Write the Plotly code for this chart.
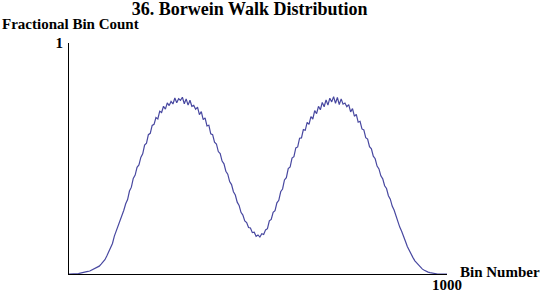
import plotly.graph_objects as go

bins = list(range(0, 1001, 5))
counts = [
    0.000, 0.000, 0.000, 0.000, 0.001, 0.002, 0.004, 0.005, 0.007, 0.009,
    0.011, 0.013, 0.017, 0.020, 0.025, 0.029, 0.034, 0.043, 0.051, 0.062,
    0.078, 0.094, 0.117, 0.132, 0.164, 0.185, 0.208, 0.232, 0.254, 0.276,
    0.304, 0.322, 0.359, 0.376, 0.414, 0.428, 0.462, 0.472, 0.505, 0.520,
    0.558, 0.566, 0.603, 0.609, 0.643, 0.648, 0.677, 0.671, 0.705, 0.699,
    0.726, 0.714, 0.741, 0.729, 0.747, 0.736, 0.762, 0.741, 0.759, 0.752,
    0.765, 0.737, 0.758, 0.731, 0.752, 0.726, 0.730, 0.713, 0.722, 0.690,
    0.703, 0.668, 0.676, 0.641, 0.644, 0.607, 0.603, 0.571, 0.563, 0.530,
    0.521, 0.489, 0.477, 0.445, 0.432, 0.400, 0.387, 0.356, 0.342, 0.311,
    0.297, 0.267, 0.255, 0.230, 0.223, 0.201, 0.199, 0.179, 0.181, 0.163,
    0.169, 0.160, 0.174, 0.171, 0.191, 0.196, 0.230, 0.236, 0.267, 0.274,
    0.308, 0.319, 0.356, 0.368, 0.407, 0.417, 0.456, 0.463, 0.502, 0.508,
    0.546, 0.550, 0.588, 0.589, 0.625, 0.622, 0.656, 0.648, 0.681, 0.671,
    0.707, 0.694, 0.726, 0.711, 0.743, 0.724, 0.754, 0.731, 0.761, 0.745,
    0.768, 0.739, 0.764, 0.733, 0.758, 0.735, 0.740, 0.724, 0.733, 0.702,
    0.716, 0.683, 0.691, 0.657, 0.661, 0.628, 0.624, 0.590, 0.584, 0.551,
    0.542, 0.510, 0.499, 0.467, 0.455, 0.425, 0.412, 0.382, 0.370, 0.339,
    0.324, 0.294, 0.277, 0.249, 0.231, 0.203, 0.185, 0.159, 0.142, 0.119,
    0.101, 0.084, 0.071, 0.057, 0.047, 0.036, 0.028, 0.021, 0.016, 0.011,
    0.008, 0.006, 0.004, 0.002, 0.001, 0.000, 0.000, 0.000, 0.000, 0.000,
    0.000,
]

x_ticks = [1000]
x_tick_labels = ["1000"]
y_ticks = [1]
y_tick_labels = ["1"]

title_text = "36. Borwein Walk Distribution"
y_label = "Fractional Bin Count"
x_label = "Bin Number"

serif = "Liberation Serif"

fig = go.Figure()
fig.add_trace(go.Scatter(
    x=bins, y=counts, mode="lines",
    line=dict(color="rgb(72,72,160)", width=1.2),
    hoverinfo="skip",
))

annotations = [
    dict(text="<b>" + y_label + "</b>", xref="paper", yref="paper",
         x=-69 / 378, y=1 + 19 / 231, xanchor="left", yanchor="middle",
         showarrow=False, font=dict(family=serif, size=15, color="black")),
    dict(text="<b>" + x_label + "</b>", xref="paper", yref="paper",
         x=1 + 11 / 378, y=2 / 231, xanchor="left", yanchor="middle",
         showarrow=False, font=dict(family=serif, size=15, color="black")),
]
for v, t in zip(x_ticks, x_tick_labels):
    annotations.append(dict(text="<b>" + t + "</b>", xref="x", yref="paper",
                            x=v, y=-11 / 231, xanchor="center", yanchor="middle",
                            showarrow=False,
                            font=dict(family=serif, size=15, color="black")))

fig.update_layout(
    width=540, height=297,
    margin=dict(l=69, r=93, t=43, b=23),
    paper_bgcolor="white", plot_bgcolor="white",
    showlegend=False,
    font=dict(family=serif, color="black"),
    title=dict(text="<b>" + title_text + "</b>", x=258 / 540, xanchor="center",
               y=1 - 9 / 297, yanchor="middle", xref="paper",
               font=dict(family=serif, size=18, color="black")),
    xaxis=dict(range=[0, 1000], showgrid=False, zeroline=False,
               showline=True, linecolor="black", linewidth=1,
               tickvals=x_ticks, showticklabels=False,
               ticks="inside", ticklen=4, tickcolor="black"),
    yaxis=dict(range=[0, 1], showgrid=False, zeroline=False,
               showline=True, linecolor="black", linewidth=1,
               tickvals=y_ticks, ticktext=["<b>%s</b>" % t for t in y_tick_labels],
               ticks="inside", ticklen=4, tickcolor="black",
               ticklabelstandoff=2,
               tickfont=dict(family=serif, size=15, color="black")),
    annotations=annotations,
)

fig.write_html("out.html")
